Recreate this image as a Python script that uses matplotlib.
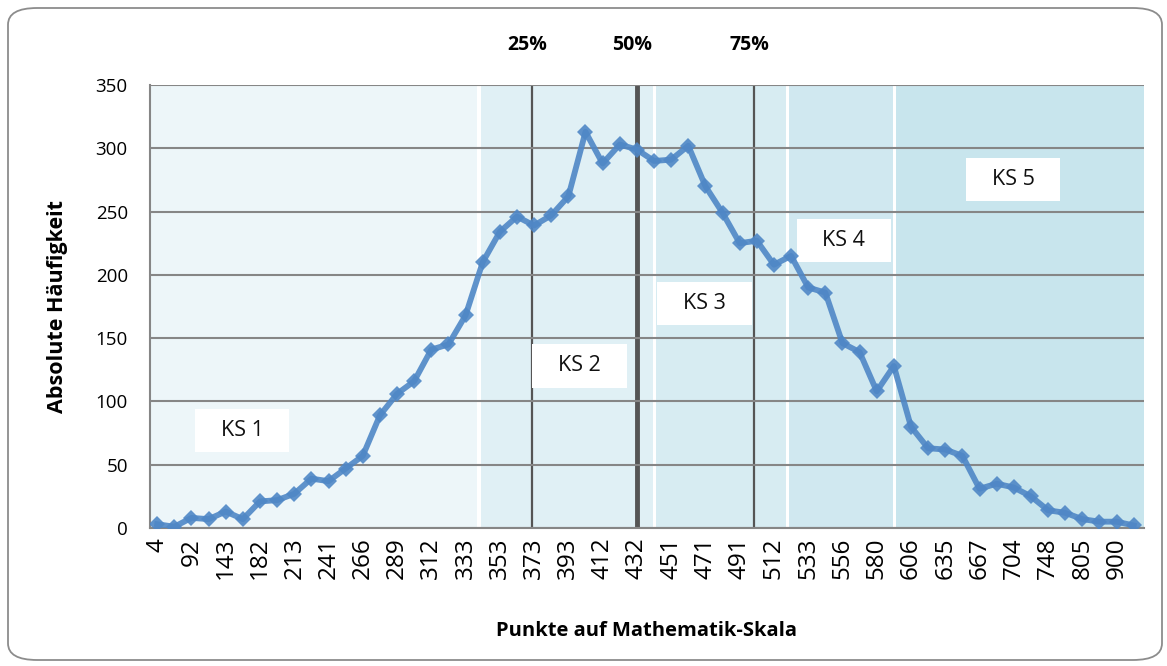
import matplotlib
matplotlib.use("Agg")
import matplotlib.pyplot as plt
from matplotlib.patches import FancyBboxPatch, Rectangle
import numpy as np

# ---- data ----
tick_labels = ["4", "92", "143", "182", "213", "241", "266", "289", "312", "333",
               "353", "373", "393", "412", "432", "451", "471", "491", "512", "533",
               "556", "580", "606", "635", "667", "704", "748", "805", "900"]
counts = [3, 1, 8, 7, 13, 7, 21, 22, 27, 39,
          37, 47, 57, 89, 106, 116, 141, 145, 168, 210,
          234, 246, 239, 247, 262, 313, 288, 303, 299, 290,
          291, 302, 270, 249, 225, 227, 208, 215, 190, 186,
          146, 139, 108, 128, 80, 63, 62, 57, 31, 35,
          32, 25, 14, 12, 7, 5, 5, 2]
# competence levels: name, start/end in category units, colour, label position
ks_names = ["KS 1", "KS 2", "KS 3", "KS 4", "KS 5"]
ks_start = [-0.42, 18.9, 29.1, 36.87, 43.1]
ks_end = [18.67, 28.94, 36.7, 42.93, 57.6]
ks_colors = ["#edf6f9", "#e0f0f5", "#d7ecf2", "#d0e8f0", "#c8e5ed"]
ks_label_x = [4.96, 24.65, 31.94, 40.08, 49.97]
ks_label_y = [77, 128, 177, 227, 275]
pct_labels = ["25%", "50%", "75%"]
pct_pos = [21.88, 28.0, 34.85]
pct_width = [1.6, 3.5, 1.6]

font = "Open Sans"
plt.rcParams["font.family"] = [font, "DejaVu Sans"]

fig = plt.figure(figsize=(11.67, 6.66), dpi=100)
# rounded border
border = FancyBboxPatch((8 / 1167, 6 / 666), 1154 / 1167, 652 / 666,
                        boxstyle="round,pad=0,rounding_size=0.025",
                        transform=fig.transFigure, facecolor="none",
                        edgecolor="#8c8c8c", linewidth=1.3)
fig.patches.append(border)

ax = fig.add_axes([150 / 1167, 1 - 528 / 666, 994 / 1167, 443 / 666])
ax.set_facecolor("none")
x = np.arange(len(counts))

for s, e, c in zip(ks_start, ks_end, ks_colors):
    ax.axvspan(s, e, color=c, zorder=0, lw=0)

ax.set_ylim(0, 350)
ax.set_xlim(-0.42, 57.6)
ax.set_yticks(np.arange(0, 351, 50))
ax.yaxis.grid(True, color="#868686", linewidth=1.5, zorder=1)
ax.set_axisbelow(False)

for p, w in zip(pct_pos, pct_width):
    ax.axvline(p, color="#555555", linewidth=w, zorder=2)

ax.plot(x, counts, color="#4f87c6", alpha=0.9, linewidth=4.2, marker="D",
        markersize=8.5, markeredgewidth=0, zorder=4)

# KS label boxes
bw, bh = 5.5, 34
for name, lx, ly in zip(ks_names, ks_label_x, ks_label_y):
    ax.add_patch(Rectangle((lx - bw / 2, ly - bh / 2), bw, bh, facecolor="white",
                           edgecolor="none", zorder=3))
    ax.text(lx, ly, name, ha="center", va="center", fontsize=15.5, zorder=5,
            color="#111111")

for lab, p in zip(pct_labels, pct_pos):
    ax.text(p - 0.3, 1.0 + 40 / 443, lab,
            transform=ax.get_xaxis_transform(), ha="center", va="center",
            fontsize=14, fontweight="bold")

ax.set_xticks(x[::2])
ax.set_xticklabels(tick_labels, rotation=90, fontsize=17.5)
ax.tick_params(axis="y", labelsize=13.5, length=0, pad=16)
ax.tick_params(axis="x", length=0, pad=7)

for side in ["top", "right"]:
    ax.spines[side].set_visible(False)
for side in ["left", "bottom"]:
    ax.spines[side].set_color("#868686")
    ax.spines[side].set_linewidth(1.5)
    ax.spines[side].set_zorder(2)

ax.set_ylabel("Absolute Häufigkeit", fontsize=15.5, fontweight="bold", labelpad=20)
ax.set_xlabel("Punkte auf Mathematik-Skala", fontsize=14.5, fontweight="bold", labelpad=30)

fig.savefig("out.png", dpi=100)
